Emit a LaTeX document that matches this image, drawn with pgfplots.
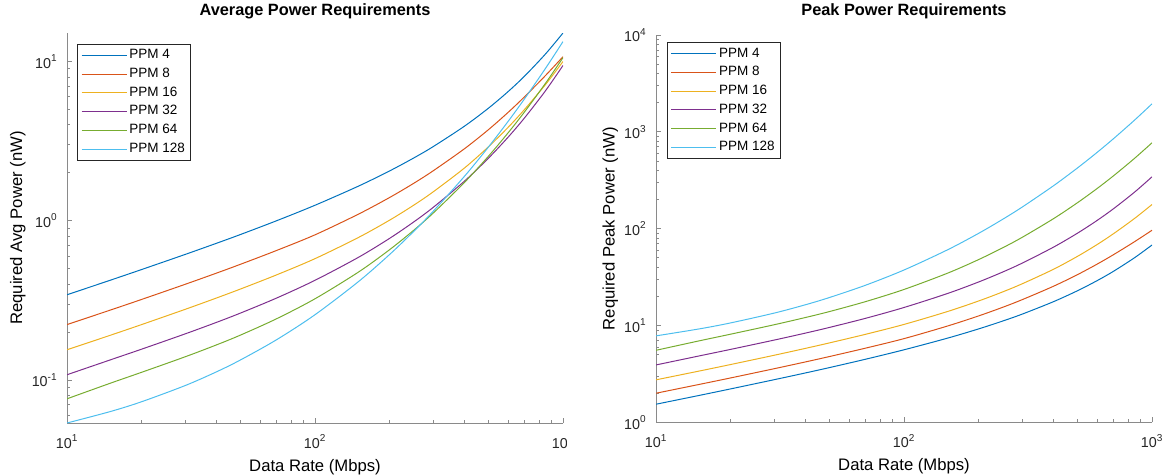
\documentclass[border=0pt]{standalone}
\usepackage{fontspec}
\setmainfont{Liberation Sans}
\usepackage{pgfplots}
\usepackage{pgfplotstable}
\pgfplotsset{compat=1.18}
\definecolor{c1}{rgb}{0,0.447,0.741}
\definecolor{c2}{rgb}{0.85,0.325,0.098}
\definecolor{c3}{rgb}{0.929,0.694,0.125}
\definecolor{c4}{rgb}{0.494,0.184,0.556}
\definecolor{c5}{rgb}{0.466,0.674,0.188}
\definecolor{c6}{rgb}{0.301,0.745,0.933}
\definecolor{tcol}{HTML}{262626}
\definecolor{acol}{HTML}{8A8A8A}

\pgfplotstableread{
x p4 p8 p16 p32 p64 p128
10 0.343 0.2228 0.1549 0.1079 0.0762 0.0537
15 0.424 0.2753 0.1913 0.1340 0.09563 0.06347
20 0.494 0.3206 0.2229 0.1562 0.1118 0.07305
30 0.615 0.3993 0.2780 0.1950 0.1400 0.09236
40 0.7214 0.4686 0.3270 0.2299 0.1660 0.1124
50 0.819 0.5325 0.3724 0.2630 0.1913 0.1335
70 1.000 0.6507 0.4572 0.3270 0.2424 0.1790
100 1.251 0.8158 0.5781 0.4227 0.3236 0.2570
150 1.652 1.102 0.7866 0.5904 0.4771 0.4158
200 2.056 1.400 1.009 0.7755 0.6585 0.6144
250 2.477 1.718 1.252 0.9824 0.8712 0.8572
300 2.925 2.062 1.521 1.215 1.119 1.149
400 3.920 2.828 2.140 1.770 1.736 1.897
500 5.085 3.728 2.910 2.468 2.538 2.899
600 6.462 4.784 3.852 3.342 3.558 4.196
700 8.095 6.008 5.002 4.428 4.829 5.836
850 11.15 8.166 7.166 6.552 7.296 9.051
1000 15.10 10.72 9.995 9.441 10.57 13.34
}\avgtab

\pgfplotstableread{
x p4 p8 p16 p32 p64 p128
10 1.544 2.005 2.757 3.928 5.563 7.840
15 1.908 2.478 3.405 4.878 6.981 9.267
20 2.223 2.885 3.968 5.686 8.161 10.67
30 2.768 3.594 4.948 7.098 10.22 13.48
40 3.246 4.217 5.821 8.368 12.12 16.41
50 3.686 4.793 6.629 9.573 13.96 19.49
70 4.500 5.856 8.138 11.90 17.70 26.13
100 5.630 7.342 10.29 15.39 23.62 37.52
150 7.434 9.918 14.00 21.49 34.83 60.71
200 9.252 12.60 17.97 28.23 48.07 89.70
250 11.15 15.46 22.29 35.76 63.60 125.2
300 13.16 18.56 27.07 44.23 81.69 167.8
400 17.64 25.45 38.09 64.43 126.7 277.0
500 22.88 33.55 51.80 89.84 185.3 423.3
600 29.08 43.06 68.57 121.6 259.7 612.6
700 36.43 54.07 89.04 161.2 352.5 852.1
850 50.18 73.49 127.6 238.5 532.6 1321
1000 67.95 96.48 177.9 343.7 771.6 1948
}\peaktab

\pgfplotscreateplotcyclelist{ml}{%
{c1,line width=0.6pt,smooth,tension=0.5},
{c2,line width=0.6pt,smooth,tension=0.5},
{c3,line width=0.6pt,smooth,tension=0.5},
{c4,line width=0.6pt,smooth,tension=0.5},
{c5,line width=0.6pt,smooth,tension=0.5},
{c6,line width=0.6pt,smooth,tension=0.5}}

\begin{document}
\begin{tikzpicture}
\path[use as bounding box] (0pt,0pt) rectangle (700.2pt,285.6pt);

\begin{axis}[
  scale only axis, xmode=log, ymode=log,
  width=297.6pt, height=234pt,
  at={(40.2pt,31.8pt)}, anchor=south west,
  xmin=10, xmax=1000,
  ymin=0.0537, ymax=15.1,
  axis x line=bottom, axis y line=left,
  axis line style={-, draw=acol, line width=0.6pt},
  tick style={draw=acol, line width=0.5pt},
  tick align=inside,
  major tick length=3pt, minor tick length=2pt,
  xtick={10,100,1000},
  xticklabels={10\textsuperscript{1},10\textsuperscript{2},10\textsuperscript{3}},
  minor xtick={20,30,40,50,60,70,80,90,200,300,400,500,600,700,800,900},
  ytick={0.1,1,10},
  yticklabels={10\textsuperscript{-1},10\textsuperscript{0},10\textsuperscript{1}},
  minor ytick={0.06,0.07,0.08,0.09,0.2,0.3,0.4,0.5,0.6,0.7,0.8,0.9,2,3,4,5,6,7,8,9},
  tick label style={font=\fontsize{8.6}{10}\selectfont, text=tcol},
  xticklabel style={anchor=base, yshift=-15.2pt},
  yticklabel style={anchor=east, xshift=-2.2pt},
  label style={font=\fontsize{9.5}{11}\selectfont, text=tcol},
  xlabel={Data Rate (Mbps)},
  every axis x label/.style={at={(axis description cs:0.5,0)}, anchor=base, yshift=-28.8pt},
  ylabel={Required Avg Power (nW)},
  every axis y label/.style={at={(axis description cs:-0.0907,0.5)}, rotate=90, anchor=base},
  title={Average Power Requirements},
  title style={at={(axis description cs:0.5,1)}, anchor=base, yshift=4.2pt, font=\bfseries\fontsize{9.8}{11}\selectfont, text=black},
  cycle list name=ml,
  legend cell align=left,
  legend image code/.code={\draw[#1] (0pt,0pt) -- (27pt,0pt);},
  legend style={font=\fontsize{8.1}{9.7}\selectfont, text=black, draw=tcol, line width=0.5pt, fill=white,
    inner xsep=2pt, inner ysep=3pt, row sep=4.1pt,
    nodes={inner xsep=1.4pt, inner ysep=0pt},
    at={(axis description cs:0,1)}, anchor=north west, xshift=6.2pt, yshift=-6.6pt},
]
\addplot table[x=x,y=p4]{\avgtab};
\addplot table[x=x,y=p8]{\avgtab};
\addplot table[x=x,y=p16]{\avgtab};
\addplot table[x=x,y=p32]{\avgtab};
\addplot table[x=x,y=p64]{\avgtab};
\addplot table[x=x,y=p128]{\avgtab};
\legend{PPM 4,PPM 8,PPM 16,PPM 32,PPM 64,PPM 128}
\end{axis}

\fill[white] (340.2pt,0pt) rectangle (352pt,27.6pt);

\begin{axis}[
  scale only axis, xmode=log, ymode=log,
  width=297.6pt, height=232.5pt,
  at={(393.6pt,32.1pt)}, anchor=south west,
  xmin=10, xmax=1000,
  ymin=1, ymax=10000,
  axis x line=bottom, axis y line=left,
  axis line style={-, draw=acol, line width=0.6pt},
  tick style={draw=acol, line width=0.5pt},
  tick align=inside,
  major tick length=3pt, minor tick length=2pt,
  xtick={10,100,1000},
  xticklabels={10\textsuperscript{1},10\textsuperscript{2},10\textsuperscript{3}},
  minor xtick={20,30,40,50,60,70,80,90,200,300,400,500,600,700,800,900},
  ytick={1,10,100,1000,10000},
  yticklabels={10\textsuperscript{0},10\textsuperscript{1},10\textsuperscript{2},10\textsuperscript{3},10\textsuperscript{4}},
  minor ytick={2,3,4,5,6,7,8,9,20,30,40,50,60,70,80,90,200,300,400,500,600,700,800,900,2000,3000,4000,5000,6000,7000,8000,9000},
  tick label style={font=\fontsize{8.6}{10}\selectfont, text=tcol},
  xticklabel style={anchor=base, yshift=-15.2pt},
  yticklabel style={anchor=east, xshift=-2.2pt},
  label style={font=\fontsize{9.5}{11}\selectfont, text=tcol},
  xlabel={Data Rate (Mbps)},
  every axis x label/.style={at={(axis description cs:0.5,0)}, anchor=base, yshift=-29.1pt},
  ylabel={Required Peak Power (nW)},
  every axis y label/.style={at={(axis description cs:-0.0833,0.5)}, rotate=90, anchor=base},
  title={Peak Power Requirements},
  title style={at={(axis description cs:0.5,1)}, anchor=base, yshift=5.4pt, font=\bfseries\fontsize{9.8}{11}\selectfont, text=black},
  cycle list name=ml,
  legend cell align=left,
  legend image code/.code={\draw[#1] (0pt,0pt) -- (27pt,0pt);},
  legend style={font=\fontsize{8.1}{9.7}\selectfont, text=black, draw=tcol, line width=0.5pt, fill=white,
    inner xsep=2pt, inner ysep=3pt, row sep=4.1pt,
    nodes={inner xsep=1.4pt, inner ysep=0pt},
    at={(axis description cs:0,1)}, anchor=north west, xshift=6.6pt, yshift=-4.4pt},
]
\addplot table[x=x,y=p4]{\peaktab};
\addplot table[x=x,y=p8]{\peaktab};
\addplot table[x=x,y=p16]{\peaktab};
\addplot table[x=x,y=p32]{\peaktab};
\addplot table[x=x,y=p64]{\peaktab};
\addplot table[x=x,y=p128]{\peaktab};
\legend{PPM 4,PPM 8,PPM 16,PPM 32,PPM 64,PPM 128}
\end{axis}
\end{tikzpicture}
\end{document}
